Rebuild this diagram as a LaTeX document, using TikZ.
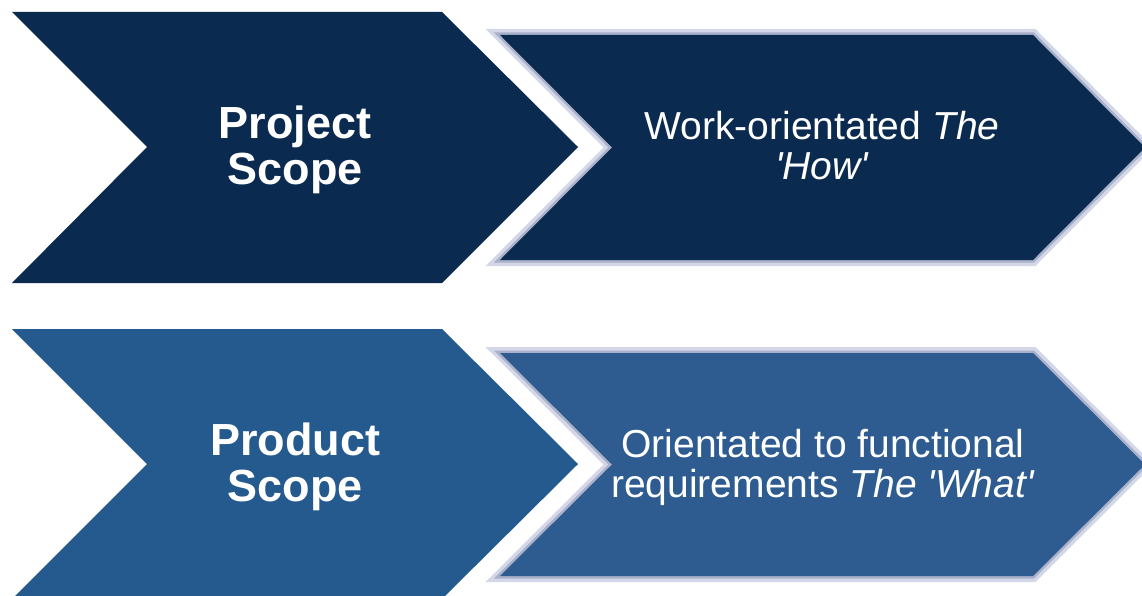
\documentclass[tikz,border=0pt]{standalone}
\usepackage{fontspec}
\setmainfont{Liberation Sans}[Ligatures=TeXOff]
\definecolor{navy}{HTML}{0B2A4F}
\definecolor{midblueA}{HTML}{255A8E}
\definecolor{midblueB}{HTML}{2E5C91}
\definecolor{rimlight}{HTML}{D3D7E8}
\definecolor{rimmid}{HTML}{A9B1CA}
\tikzset{
  headtext/.style={text=white, align=center, font=\fontsize{45}{46}\selectfont\bfseries, inner sep=0pt},
  bodytext/.style={text=white, align=center, font=\fontsize{39}{40}\selectfont, inner sep=0pt},
  rimouter/.style={draw=rimlight, line width=12pt, line join=miter},
  riminner/.style={draw=rimmid, line width=5pt, line join=miter},
}
\begin{document}
\begin{tikzpicture}[x=1pt,y=-1pt]
\useasboundingbox (0,0) rectangle (1142,596);
\clip (0,0) rectangle (1142,596);
% top-left chevron
\fill[navy] (12,12) -- (442,12) -- (578,147) -- (442,283) -- (12,283) -- (147,147) -- cycle;
% top-right chevron
\path[rimouter] (500,35) -- (1033,35) -- (1145,147.5) -- (1033,260) -- (500,260) -- (612,147.5) -- cycle;
\path[riminner] (500,35) -- (1033,35) -- (1145,147.5) -- (1033,260) -- (500,260) -- (612,147.5) -- cycle;
\fill[navy] (500,35) -- (1033,35) -- (1145,147.5) -- (1033,260) -- (500,260) -- (612,147.5) -- cycle;
% bottom-left chevron
\fill[midblueA] (12,329) -- (442,329) -- (578,464) -- (442,599) -- (12,599) -- (147,464) -- cycle;
% bottom-right chevron
\path[rimouter] (500,353) -- (1033,353) -- (1145,464.5) -- (1033,576) -- (500,576) -- (612,464.5) -- cycle;
\path[riminner] (500,353) -- (1033,353) -- (1145,464.5) -- (1033,576) -- (500,576) -- (612,464.5) -- cycle;
\fill[midblueB] (500,353) -- (1033,353) -- (1145,464.5) -- (1033,576) -- (500,576) -- (612,464.5) -- cycle;
% texts
\node[headtext] (proj) at (295,149.5) {Project\\Scope};
\node[bodytext] (how) at (822,146) {Work-orientated \textit{The}\\\textit{'How'}};
\node[headtext] (prod) at (295,466.5) {Product\\Scope};
\node[bodytext] (what) at (823,467) {Orientated to functional\\requirements \textit{The 'What'}};
\end{tikzpicture}
\end{document}
